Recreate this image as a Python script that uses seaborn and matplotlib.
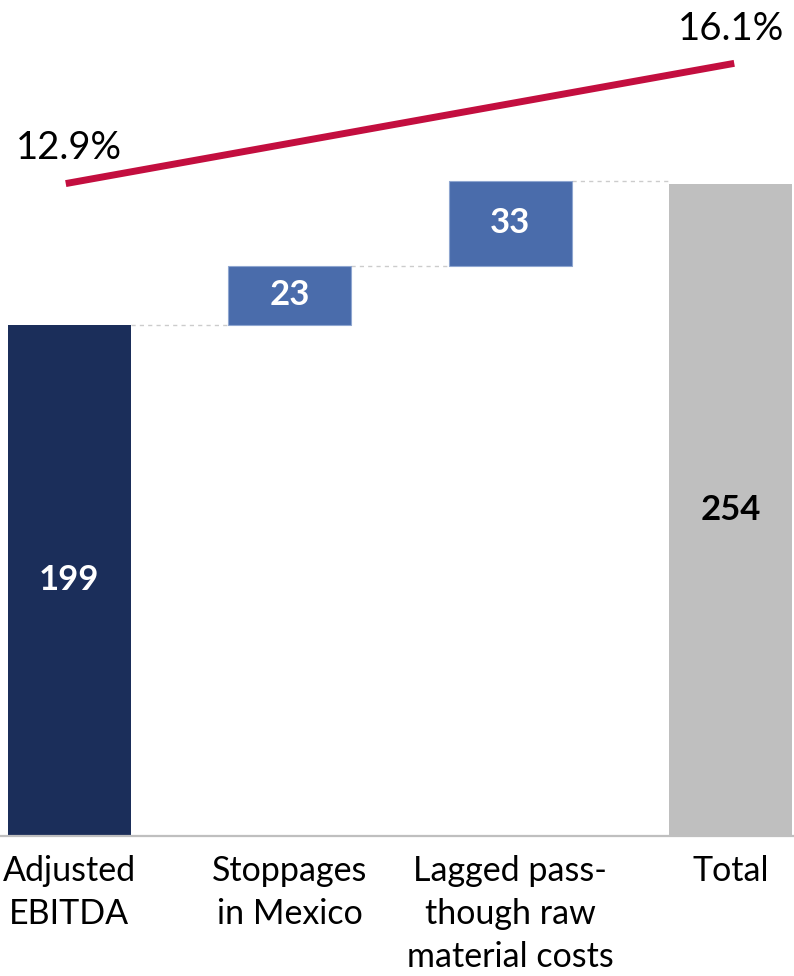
import matplotlib
matplotlib.use("Agg")
import matplotlib.pyplot as plt
import seaborn as sns
import numpy as np

# Waterfall data (EUR m) and EBITDA margin
categories = ["Adjusted\nEBITDA", "Stoppages\nin Mexico", "Lagged pass-\nthough raw\nmaterial costs", "Total"]
values = [199, 23, 33, 254]
kinds = ["start", "delta", "delta", "total"]
margin_labels = ["12.9%", "16.1%"]
margin_values = [12.9, 16.1]

colors = {"start": "#1b2e5a", "delta": "#4a6cab", "total": "#bfbfbf"}
label_colors = {"start": "white", "delta": "white", "total": "black"}

sns.set_theme(style="white")
plt.rcParams["font.family"] = ["Lato", "DejaVu Sans"]

# Bar bases: running sum for the increments, zero for start and total
bases = []
running = 0
for v, k in zip(values, kinds):
    if k == "delta":
        bases.append(running)
        running += v
    else:
        bases.append(0)
        running = v

fig = plt.figure(figsize=(7.94, 9.76), dpi=100)
ax = fig.add_axes([0, (976 - 836) / 976, 1, 836 / 976])

bar_w = 0.557
sns.barplot(x=categories, y=values, bottom=bases, errorbar=None,
            width=bar_w, ax=ax, linewidth=0, color=colors["start"],
            saturation=1)
for patch, k in zip(ax.patches, kinds):
    patch.set_facecolor(colors[k])
    if k == "delta":
        patch.set_edgecolor("#8fa6d0")
        patch.set_linewidth(0.8)

# Value labels in the middle of each bar
for i, (v, b, k) in enumerate(zip(values, bases, kinds)):
    ax.text(i, b + v / 2, f"{v}", ha="center", va="center",
            fontsize=25, fontweight="bold", color=label_colors[k])

# Dashed connectors between consecutive bar tops
half = bar_w / 2
for i in range(len(values) - 1):
    top = bases[i] + values[i]
    ax.plot([i + half, i + 1 - half], [top, top], ls=(0, (3, 3)),
            color="#cccccc", lw=1.0, zorder=0)

xlim = (-0.3136, 3.2864)
ax.set_xlim(*xlim)
ax.set_ylim(0, 325.5)
ax.set_yticks([])
ax.set_ylabel("")
for s in ["top", "left", "right"]:
    ax.spines[s].set_visible(False)
ax.spines["bottom"].set_color("#bfbfbf")
ax.spines["bottom"].set_linewidth(1.6)
ax.tick_params(axis="x", length=0, pad=14, labelsize=24.5, colors="black")
for lab in ax.get_xticklabels():
    lab.set_linespacing(1.42)
    lab.set_va("top")

# Margin line on a secondary axis
ax2 = ax.twinx()
sns.lineplot(x=[0, 3], y=margin_values, ax=ax2, color="#c30e3f", lw=5,
             solid_capstyle="projecting")
ax2.set_ylim(-4.66, 17.82)
ax2.set_yticks([])
ax2.set_ylabel("")
ax2.set_xlim(*xlim)
for s in ax2.spines.values():
    s.set_visible(False)
for xi, v, lab in zip([0, 3], margin_values, margin_labels):
    ax2.annotate(lab, (xi, v), xytext=(0, 25.5), textcoords="offset points",
                 ha="center", va="center", fontsize=27.5, color="black")

fig.savefig("out.png", dpi=100)
